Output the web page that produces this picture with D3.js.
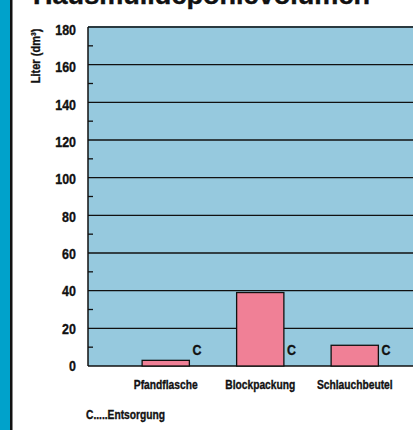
<!DOCTYPE html>
<html><head><meta charset="utf-8">
<script src="https://cdn.jsdelivr.net/npm/d3@7"></script>
<style>
body{margin:0;background:#fff;}
svg{display:block;}
text{font-family:"Liberation Sans",Arial,sans-serif;font-weight:bold;fill:#111;stroke:#111;stroke-width:0.35px;}
</style></head>
<body>
<svg id="c" width="413" height="430"></svg>
<script>
const title = "Hausmülldeponievolumen";
const categories = ["Pfandflasche", "Blockpackung", "Schlauchbeutel"];
const values = [3, 39, 11];
const barLabels = ["C", "C", "C"];
const yTicks = [0, 20, 40, 60, 80, 100, 120, 140, 160, 180];
const yMinorTicks = [10, 30, 50, 70, 90, 110, 130, 150, 170];
const yLabel = "Liter (dm³)";
const footnote = "C.....Entsorgung";

(function(){
const svg = d3.select("#c");
const W = 413;
const pLeft = 88, pTop = 27, pBottom = 366;
const SX = 0.82; // condensed look

// left blue strip
svg.append("rect").attr("x",0).attr("y",0).attr("width",10).attr("height",430).attr("fill","#00a2cb");
svg.append("rect").attr("x",10).attr("y",0).attr("width",2.5).attr("height",430).attr("fill","#111");

// title (cut at the top, as in the reference)
svg.append("text").attr("x",33).attr("y",4).attr("font-size",25)
  .attr("textLength",337).attr("lengthAdjust","spacingAndGlyphs").text(title);

const y = d3.scaleLinear().domain([0,180]).range([pBottom, pTop]);
const x = d3.scaleBand().domain(categories).range([118.5, 402]).paddingInner(0.5).paddingOuter(0.25);

// plot background
svg.append("rect").attr("x",pLeft).attr("y",pTop).attr("width",W-pLeft).attr("height",pBottom-pTop).attr("fill","#96c9de");

// gridlines
svg.append("g").selectAll("line").data(yTicks).join("line")
  .attr("x1",pLeft).attr("x2",W).attr("y1",d=>y(d)).attr("y2",d=>y(d))
  .attr("stroke",d=>d===180?"#2a3a40":"#111").attr("stroke-width",d=>d===180?2:1.3);

// minor ticks
svg.append("g").selectAll("line").data(yMinorTicks).join("line")
  .attr("x1",pLeft).attr("x2",pLeft+5).attr("y1",d=>y(d)).attr("y2",d=>y(d))
  .attr("stroke","#111").attr("stroke-width",1.3);

// axis line
svg.append("line").attr("x1",pLeft).attr("x2",pLeft).attr("y1",pTop).attr("y2",pBottom).attr("stroke","#111").attr("stroke-width",1.5);

// y tick labels
svg.append("g").selectAll("text").data(yTicks).join("text")
  .attr("transform",d=>`translate(76,${y(d)+ (d/180)*2.5}) scale(0.86,1)`)
  .attr("dy","0.36em").attr("text-anchor","end")
  .attr("font-size",14.5).text(d=>d);

// y label
svg.append("text").attr("transform","translate(40,56) rotate(-90) scale(0.82,1)").attr("text-anchor","middle")
  .attr("font-size",13.5).text(yLabel);

// bars
svg.append("g").selectAll("rect").data(values).join("rect")
  .attr("x",(d,i)=>x(categories[i])).attr("width",x.bandwidth())
  .attr("y",d=>y(d)).attr("height",d=>y(0)-y(d))
  .attr("fill","#f08096").attr("stroke","#111").attr("stroke-width",1.3);

// bar labels
svg.append("g").selectAll("text").data(barLabels).join("text")
  .attr("transform",(d,i)=>`translate(${x(categories[i])+x.bandwidth()+3},${y(9)}) scale(0.8,1)`)
  .attr("dy","0.36em").attr("font-size",15.5).text(d=>d);

// category labels
svg.append("g").selectAll("text").data(categories).join("text")
  .attr("transform",d=>`translate(${x(d)+x.bandwidth()/2},384) scale(${SX},1)`)
  .attr("dy","0.36em").attr("text-anchor","middle")
  .attr("font-size",12.5).text(d=>d);

// footnote
svg.append("text").attr("transform",`translate(86,414) scale(${SX},1)`).attr("dy","0.36em").attr("font-size",12.5).text(footnote);
})();
</script>
</body></html>
